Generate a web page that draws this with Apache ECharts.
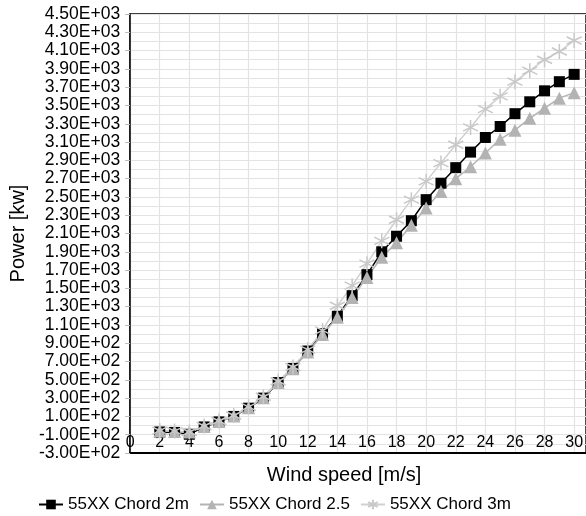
<!DOCTYPE html>
<html>
<head>
<meta charset="utf-8">
<script src="https://cdn.jsdelivr.net/npm/echarts@6/dist/echarts.min.js"></script>
<style>
  html, body { margin: 0; padding: 0; background: #fff; }
  #chart { width: 586px; height: 516px; }
</style>
</head>
<body>
<div id="chart"></div>
<script>
// wind speed [m/s]
const windSpeed = [2, 3, 4, 5, 6, 7, 8, 9, 10, 11, 12, 13, 14, 15, 16, 17, 18, 19, 20, 21, 22, 23, 24, 25, 26, 27, 28, 29, 30]
// power [kw] per chord
const chord2m = [-70, -75, -95, -15, 40, 100, 190, 300, 470, 625, 815, 1005, 1195, 1420, 1650, 1900, 2070, 2240, 2470, 2650, 2820, 2990, 3150, 3270, 3410, 3540, 3660, 3760, 3840]
const chord25 = [-60, -65, -70, -10, 45, 105, 195, 305, 470, 620, 805, 995, 1185, 1400, 1620, 1840, 2000, 2190, 2380, 2560, 2700, 2830, 2980, 3130, 3230, 3360, 3470, 3580, 3640]
const chord3m = [-55, -60, -70, -5, 50, 110, 205, 315, 485, 640, 830, 1040, 1310, 1530, 1770, 2020, 2250, 2470, 2670, 2870, 3070, 3260, 3460, 3600, 3760, 3880, 4000, 4090, 4210]
const seriesNames = ['55XX Chord 2m', '55XX Chord 2.5', '55XX Chord 3m']

const pair = (ys) => windSpeed.map((x, i) => [x, ys[i]])

// Excel style 4.50E+03
const sci = (v) => {
    const s = Number(v).toExponential(2).toUpperCase()
    return s.replace(/E([+-])(\d)$/, 'E$10$2')
}

const font = 'Liberation Sans, Arial, sans-serif'
const star = 'path://M5,0 L5,10 M0.7,2.5 L9.3,7.5 M0.7,7.5 L9.3,2.5'

let myEcharts = echarts.init(document.getElementById('chart'))
let option = {
    animation: false,
    grid: {
        left: 125,
        right: -2,
        top: 14,
        bottom: 63,
        show: true,
        borderColor: '#000',
        borderWidth: 1.5
    },
    legend: {
        data: seriesNames,
        left: 33,
        top: 491,
        itemWidth: 24,
        itemHeight: 12,
        itemGap: 10,
        textStyle: { fontFamily: font, fontSize: 17, color: '#000' }
    },
    xAxis: {
        type: 'value',
        min: 0,
        max: 30.8,
        interval: 2,
        name: 'Wind speed [m/s]',
        nameLocation: 'middle',
        nameGap: 12,
        nameTextStyle: { fontFamily: font, fontSize: 20, color: '#000', padding: [0, 28, 0, 0] },
        axisLine: { show: true, onZero: false, lineStyle: { color: '#000', width: 2 } },
        axisTick: { show: false },
        axisLabel: {
            inside: true,
            margin: 2,
            showMaxLabel: false,
            fontFamily: font,
            fontSize: 16,
            color: '#000'
        },
        splitLine: { show: true, lineStyle: { color: '#e3e3e3', width: 1.2 } }
    },
    yAxis: {
        type: 'value',
        min: -300,
        max: 4500,
        interval: 200,
        name: 'Power [kw]',
        nameLocation: 'middle',
        nameGap: 98,
        nameTextStyle: { fontFamily: font, fontSize: 20, color: '#000' },
        axisLine: { show: true, onZero: false, lineStyle: { color: '#000', width: 1.5 } },
        axisTick: { show: true, length: 5, lineStyle: { color: '#bbb' } },
        axisLabel: {
            margin: 10,
            fontFamily: font,
            fontSize: 17.5,
            color: '#000',
            formatter: sci
        },
        minorTick: { show: false, splitNumber: 2 },
        splitLine: { show: true, lineStyle: { color: '#e3e3e3', width: 1.2 } },
        minorSplitLine: { show: true, lineStyle: { color: '#e3e3e3', width: 1.2 } }
    },
    series: [{
        name: seriesNames[0],
        type: 'line',
        data: pair(chord2m),
        symbol: 'rect',
        symbolSize: 11,
        lineStyle: { color: '#000', width: 1.5 },
        itemStyle: { color: '#000' }
    }, {
        name: seriesNames[1],
        type: 'line',
        data: pair(chord25),
        symbol: 'triangle',
        symbolSize: 13,
        lineStyle: { color: '#b3b3b3', width: 1.5 },
        itemStyle: { color: '#b3b3b3' }
    }, {
        name: seriesNames[2],
        type: 'line',
        data: pair(chord3m),
        symbol: star,
        symbolSize: 15,
        lineStyle: { color: '#d0d0d0', width: 1.5 },
        itemStyle: { color: 'transparent', borderColor: '#c8c8c8', borderWidth: 1.5 }
    }]
}
myEcharts.setOption(option)
</script>
</body>
</html>
